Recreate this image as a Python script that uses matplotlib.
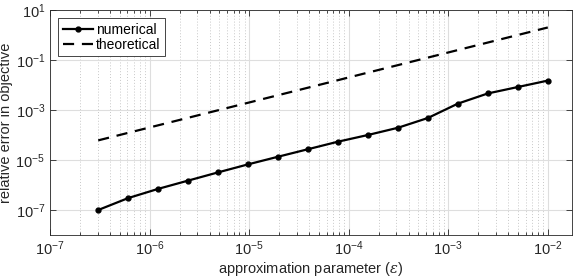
import numpy as np
import matplotlib
matplotlib.use("Agg")
import matplotlib.pyplot as plt
from matplotlib.ticker import LogLocator, NullLocator, NullFormatter

plt.rcParams['font.family'] = ['Liberation Sans', 'DejaVu Sans']
plt.rcParams['mathtext.fontset'] = 'custom'
plt.rcParams['mathtext.rm'] = 'Liberation Sans'
plt.rcParams['mathtext.it'] = 'DejaVu Serif:italic'

# approximation parameter values (eps halves each step)
eps = [3.05e-7, 6.1e-7, 1.22e-6, 2.44e-6, 4.88e-6, 9.77e-6, 1.95e-5, 3.9e-5,
       7.8e-5, 1.56e-4, 3.13e-4, 6.25e-4, 1.25e-3, 2.5e-3, 5e-3, 1e-2]

# relative error
numerical = [1.0e-7, 3.0e-7, 7.0e-7, 1.5e-6, 3.2e-6, 6.7e-6, 1.35e-5, 2.7e-5,
             5.4e-5, 1.0e-4, 1.95e-4, 4.8e-4, 1.8e-3, 4.6e-3, 8.3e-3, 1.5e-2]
theoretical = [6.1e-5, 1.22e-4, 2.44e-4, 4.88e-4, 9.77e-4, 1.95e-3, 3.9e-3, 7.8e-3,
               1.56e-2, 3.13e-2, 6.25e-2, 0.125, 0.25, 0.5, 1.0, 2.0]

xticks = [1e-7, 1e-6, 1e-5, 1e-4, 1e-3, 1e-2]
yticks = [1e-7, 1e-5, 1e-3, 1e-1, 1e1]

fig = plt.figure(figsize=(5.75, 2.77), dpi=100)
ax = fig.add_axes([50/575, 42/277, 522/575, 225/277])

ax.plot(eps, numerical, 'k-', marker='.', markersize=7, linewidth=1.6, label="numerical")
ax.plot(eps, theoretical, 'k--', linewidth=1.6, dashes=(5, 3.5), label="theoretical")

ax.set_xscale('log')
ax.set_yscale('log')
ax.set_xlim(1e-7, 1.75e-2)
ax.set_ylim(1e-8, 1e1)
ax.set_xticks(xticks)
ax.xaxis.set_minor_locator(LogLocator(base=10, subs=np.arange(2, 10), numticks=20))
ax.xaxis.set_minor_formatter(NullFormatter())
ax.set_yticks(yticks)
ax.yaxis.set_minor_locator(NullLocator())

ax.grid(True, which='major', color='#dedede', linewidth=0.8, linestyle='-')
ax.grid(True, which='minor', axis='x', color='#c8c8c8', linewidth=0.7, linestyle=(0, (1, 2)))
ax.set_axisbelow(True)

ax.tick_params(which='both', direction='in', top=True, right=True, labelsize=10.5,
               color='#262626', labelcolor='#262626')
ax.tick_params(which='major', length=4, width=0.6)
ax.tick_params(which='minor', length=2.5, width=0.6)
for s in ax.spines.values():
    s.set_color('#262626')
    s.set_linewidth(0.6)

ax.set_xlabel(r"approximation parameter ($\epsilon$)", fontsize=10.5, color='#262626', labelpad=1)
ax.set_ylabel("relative error in objective", fontsize=10.5, color='#262626', labelpad=2)

leg = ax.legend(loc='upper left', fontsize=10, fancybox=False, framealpha=1,
                edgecolor='#262626', handlelength=2.2, handletextpad=0.2,
                borderpad=0.3, labelspacing=0.1, borderaxespad=0.6)
leg.get_frame().set_linewidth(0.6)

fig.savefig("out.png", dpi=100)
